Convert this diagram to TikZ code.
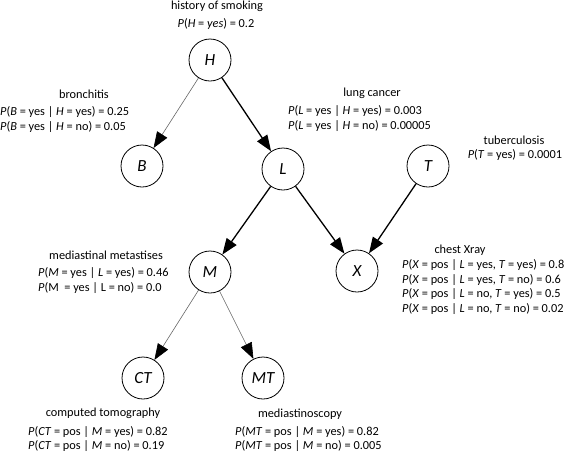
\documentclass[tikz,border=0pt]{standalone}
\usepackage{fontspec}
\setmainfont{Carlito}
\usetikzlibrary{arrows.meta}
\newcommand{\iv}[1]{\textit{#1}}
\begin{document}
\begin{tikzpicture}[x=1pt,y=-1pt,
  var/.style={circle,draw,line width=0.8pt,minimum size=42pt,inner sep=0pt,font=\fontsize{17}{20}\selectfont\itshape},
  lbl/.style={font=\fontsize{12.3}{14.5}\selectfont,inner sep=0pt},
  cpt/.style={lbl,align=left,anchor=west},
  strong/.style={line width=1.3pt,-{Triangle[length=16pt,width=12pt]}},
  weak/.style={line width=0.6pt,draw=black!60,-{Triangle[length=16pt,width=12pt,color=black]}}]
\useasboundingbox (0,0) rectangle (567,453);
% variables
\node[var] (H) at (210,60) {H};
\node[var] (B) at (142,166) {B};
\node[var] (L) at (283,169) {L};
\node[var] (T) at (428,166) {T};
\node[var] (M) at (210,272) {M};
\node[var] (X) at (357,271) {X};
\node[var] (CT) at (143,378) {CT};
\node[var] (MT) at (263,378) {MT};
% edges
\draw[weak] (H) -- (B);
\draw[strong] (H) -- (L);
\draw[strong] (L) -- (M);
\draw[strong] (L) -- (X);
\draw[strong] (T) -- (X);
\draw[weak] (M) -- (CT);
\draw[weak] (M) -- (MT);
% labels
\node[lbl] (ht) at (217,6) {history of smoking};
\node[lbl] (hp) at (216,24) {\iv{P}(\iv{H} = \iv{yes}) = 0.2};
\node[lbl] (bt) at (84,94) {bronchitis};
\node[cpt] (bp) at (0,119.5) {\iv{P}(\iv{B} = yes | \iv{H} = yes) = 0.25\\\iv{P}(\iv{B} = yes | \iv{H} = no) = 0.05};
\node[lbl] (lt) at (372,93) {lung cancer};
\node[cpt] (lp) at (288,118.5) {\iv{P}(\iv{L} = yes | \iv{H} = yes) = 0.003\\\iv{P}(\iv{L} = yes | \iv{H} = no) = 0.00005};
\node[lbl] (tt) at (514,140) {tuberculosis};
\node[lbl] (tp) at (515,155) {\iv{P}(\iv{T} = yes) = 0.0001};
\node[lbl] (mt) at (106,255) {mediastinal metastises};
\node[cpt] (mp) at (38,280.5) {\iv{P}(\iv{M} = yes | \iv{L} = yes) = 0.46\\\iv{P}(M\ \ = yes | L = no) = 0.0};
\node[lbl] (xt) at (460,250) {chest Xray};
\node[cpt] (xp) at (402,287) {\iv{P}(\iv{X} = pos | \iv{L} = yes, \iv{T} = yes) = 0.8\\\iv{P}(\iv{X} = pos | \iv{L} = yes, \iv{T} = no) = 0.6\\\iv{P}(\iv{X} = pos | \iv{L} = no, \iv{T} = yes) = 0.5\\\iv{P}(\iv{X} = pos | \iv{L} = no, \iv{T} = no) = 0.02};
\node[lbl] (ctt) at (103,413) {computed tomography};
\node[cpt] (ctp) at (28,439) {\iv{P}(\iv{CT} = pos | \iv{M} = yes) = 0.82\\\iv{P}(\iv{CT} = pos | \iv{M} = no) = 0.19};
\node[lbl] (mtt) at (300,414) {mediastinoscopy};
\node[cpt] (mtp) at (235,439) {\iv{P}(\iv{MT} = pos | \iv{M} = yes) = 0.82\\\iv{P}(\iv{MT} = pos | \iv{M} = no) = 0.005};
\end{tikzpicture}
\end{document}
